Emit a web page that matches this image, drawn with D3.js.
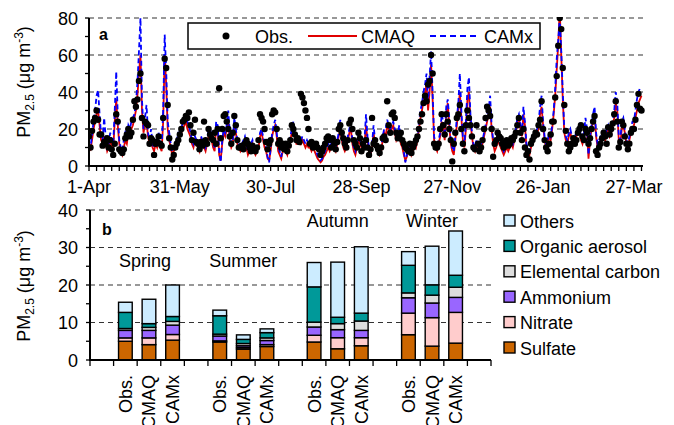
<!DOCTYPE html>
<html lang="en">
<head>
    <title>PM2.5 observed vs modelled</title>
    <meta charset="utf-8">
    <script src="https://cdn.jsdelivr.net/npm/d3@7"></script>
    <style>
      body { margin: 0; background: #fff; }
      text { font-family: "Liberation Sans", Arial, sans-serif; fill: #000; }
      .grid { stroke: #333; stroke-width: 1.2; stroke-dasharray: 5,4; }
    </style>
</head>
<body>
<svg id="chart"></svg>
<script>
    // ---- panel a: daily PM2.5, day 0 = 1-Apr ----
    const dateLabels = ["1-Apr", "31-May", "30-Jul", "28-Sep", "27-Nov", "26-Jan", "27-Mar"];
    const dateTicks = [0, 60, 120, 180, 240, 300, 360];

    const obs = [
        16, 10, 19, 24, 26, 30, 25, 17, 17, 11,
        13, 12, 15, 10, 14, 9, 6, 12, 28, 24,
        9, 8, 7, 9, 15, 17, 20, 16, 18, 25,
        35, 32, 36, 46, 50, 26, 16, 24, 23, 22,
        12, 15, 14, 6, 12, 13, 16, 12, 11, 26,
        58, 53, 33, 15, 10, 3.5, 6, 10, 12, 14,
        17, 20, 24, 25, 27, 26, 29, 22, 14, 18,
        25, 13, 12, 9, 13, 11, 24, 14, 12, 20,
        17, 15, 14, 18, 12, 20, 42, 15, 20, 27,
        28, 24, 20, 16, 12, 18, 27, 22, 14, 10,
        10, 11, 9, 12, 14, 12, 10, 8, 11, 9,
        8, 10, 14, 28, 26, 24, 20, 13, 9, 12,
        14, 28, 30, 29, 20, 12, 14, 10, 12, 9,
        12, 8, 11, 14, 22, 20, 17, 14, 15, 13,
        39, 37, 34, 30, 26, 20, 12, 13, 10, 11,
        12, 10, 9, 6, 8, 10, 12, 15, 16, 14,
        10, 15, 12, 9, 13, 20, 22, 18, 15, 12,
        10, 14, 23, 25, 20, 14, 12, 10, 18, 15,
        8, 12, 10, 14, 10, 6, 9, 26, 12, 14,
        11, 9, 7, 10, 15, 16, 14, 35, 22, 18,
        28, 29, 26, 18, 15, 16, 18, 14, 12, 10,
        9, 8, 12, 7, 10, 12, 14, 16, 20, 24,
        28, 34, 38, 35, 44, 46, 60, 50, 12, 10,
        10, 12, 20, 28, 22, 17, 28, 24, 20, 14,
        2.5, 12, 18, 26, 28, 33, 20, 12, 8, 22,
        30, 26, 22, 16, 10, 9, 22, 12, 8, 10,
        14, 20, 26, 32, 30, 27, 20, 5, 12, 14,
        18, 16, 15, 12, 10, 13, 14, 11, 12, 15,
        14, 16, 18, 22, 26, 18, 14, 20, 10, 6,
        8, 3.5, 12, 14, 16, 18, 17, 22, 25, 35,
        20, 14, 10, 8, 12, 17, 24, 24, 37, 48.6,
        65, 80, 74, 53, 33, 19, 12, 8, 10, 12,
        15, 12, 14, 18, 20, 22, 16, 14, 20, 18,
        12, 15, 20, 24, 27, 8, 6, 10, 12, 15,
        18, 16, 12, 21, 17, 20, 23, 28, 35, 24,
        10, 13, 24, 22, 16, 12, 9, 12, 18, 20,
        20, 25, 33, 39, 31, 30
    ];

    const cmaq = [
        10, 9, 14, 20, 24, 28, 30, 22, 14, 12,
        16, 12, 8, 10, 14, 11, 9, 24, 36, 22,
        12, 8, 6, 10, 14, 12, 18, 16, 20, 22,
        26, 30, 38, 50, 60, 30, 18, 22, 24, 16,
        12, 16, 10, 8, 12, 10, 14, 10, 8, 24,
        60, 44, 20, 14, 10, 6, 8, 10, 12, 14,
        16, 18, 20, 22, 24, 20, 18, 16, 12, 10,
        14, 12, 10, 8, 14, 12, 10, 8, 12, 16,
        18, 14, 10, 8, 22, 20, 6, 3, 12, 18,
        16, 20, 24, 14, 10, 12, 22, 18, 12, 10,
        8, 10, 12, 14, 10, 6, 8, 10, 12, 8,
        6, 8, 10, 16, 18, 14, 10, 8, 4, 3,
        8, 16, 20, 22, 16, 8, 6, 4, 8, 10,
        8, 6, 10, 14, 18, 20, 16, 12, 12, 14,
        12, 14, 12, 10, 12, 10, 10, 8, 10, 8,
        6, 4, 3, 2, 3, 5, 6, 8, 10, 8,
        10, 12, 10, 8, 12, 16, 20, 14, 10, 8,
        10, 14, 18, 20, 12, 8, 6, 10, 14, 12,
        10, 8, 12, 22, 14, 8, 6, 10, 18, 12,
        10, 8, 6, 8, 14, 18, 16, 22, 20, 18,
        20, 22, 18, 14, 16, 18, 12, 10, 6, 3,
        5, 8, 10, 6, 8, 12, 10, 14, 20, 26,
        30, 36, 40, 44, 30, 40, 55, 36, 14, 10,
        8, 12, 16, 24, 20, 14, 28, 34, 22, 12,
        8, 6, 14, 22, 30, 40, 26, 14, 10, 20,
        36, 40, 24, 16, 10, 8, 12, 10, 8, 10,
        12, 16, 20, 24, 28, 32, 20, 12, 8, 10,
        14, 12, 10, 8, 6, 8, 10, 8, 10, 12,
        10, 14, 18, 24, 26, 20, 16, 28, 22, 10,
        8, 6, 10, 12, 14, 16, 18, 20, 28, 32,
        22, 14, 10, 12, 16, 14, 20, 28, 38, 52,
        66, 85, 60, 36, 18, 14, 12, 16, 18, 14,
        12, 14, 16, 18, 20, 14, 12, 16, 22, 18,
        4, 14, 20, 24, 28, 16, 10, 12, 14, 16,
        16, 14, 18, 20, 16, 18, 22, 26, 34, 30,
        14, 12, 20, 22, 18, 12, 10, 14, 18, 20,
        22, 26, 30, 34, 36, 38
    ];

    const camx = [
        12, 10, 17, 24, 30, 38, 41, 28, 16, 14,
        26, 16, 10, 12, 18, 14, 12, 30, 51, 28,
        14, 10, 8, 14, 18, 16, 22, 20, 24, 26,
        28, 34, 45, 62, 80, 36, 20, 26, 33, 18,
        14, 20, 12, 10, 15, 12, 18, 12, 10, 30,
        71, 52, 24, 18, 12, 8, 10, 12, 14, 18,
        18, 20, 24, 26, 27, 24, 22, 18, 14, 12,
        16, 14, 12, 10, 16, 14, 12, 10, 14, 20,
        20, 16, 12, 10, 24, 22, 8, 2, 14, 20,
        18, 22, 30, 18, 12, 14, 26, 20, 14, 12,
        10, 12, 14, 16, 12, 8, 10, 12, 14, 10,
        8, 10, 12, 18, 20, 16, 12, 10, 5, 2,
        10, 18, 22, 25, 18, 10, 8, 5, 10, 12,
        10, 8, 12, 16, 20, 24, 18, 14, 14, 16,
        14, 16, 14, 12, 14, 12, 12, 10, 12, 10,
        8, 6, 4, 3, 4, 6, 8, 10, 12, 10,
        12, 14, 12, 10, 14, 18, 25, 16, 12, 10,
        12, 16, 20, 24, 14, 10, 8, 12, 18, 14,
        12, 10, 14, 28, 16, 10, 8, 12, 22, 14,
        12, 10, 8, 10, 16, 20, 20, 25, 22, 20,
        22, 24, 20, 16, 18, 22, 14, 12, 8, 2,
        6, 10, 12, 8, 10, 14, 12, 16, 24, 30,
        34, 40, 44, 50, 34, 48, 62, 40, 16, 12,
        10, 14, 18, 28, 24, 16, 32, 36, 26, 14,
        10, 8, 16, 26, 34, 50, 30, 16, 12, 24,
        42, 48, 28, 18, 12, 10, 14, 12, 10, 12,
        14, 18, 22, 28, 30, 38, 22, 14, 10, 12,
        16, 14, 12, 10, 8, 10, 12, 10, 12, 14,
        12, 16, 20, 26, 28, 22, 18, 32, 24, 12,
        10, 8, 12, 14, 16, 18, 20, 24, 32, 38,
        24, 16, 12, 14, 18, 16, 22, 30, 42, 58,
        68, 80, 62, 40, 20, 16, 14, 18, 20, 16,
        14, 16, 18, 20, 22, 16, 14, 18, 26, 20,
        6, 16, 22, 28, 32, 18, 12, 14, 16, 18,
        18, 16, 20, 22, 18, 20, 24, 30, 40, 34,
        16, 14, 24, 26, 20, 14, 12, 16, 20, 24,
        24, 30, 36, 40, 42, 42
    ];

    // ---- panel b: seasonal composition (µg m-3), bars in order season x source ----
    const seasons = ["Spring", "Summer", "Autumn", "Winter"];
    const sources = ["Obs.", "CMAQ", "CAMx"];
    const components = ["Sulfate", "Nitrate", "Ammonium", "Elemental carbon", "Organic aerosol", "Others"];
    const sulfate  = [5.0, 4.1, 5.3,  4.8, 2.9, 3.6,  4.8, 3.0, 3.8,  6.75, 3.7, 4.5];
    const nitrate  = [0.9, 1.8, 1.5,  0.3, 0.4, 0.5,  1.8, 2.95, 2.15, 5.75, 7.6, 8.2];
    const ammonium = [2.0, 2.0, 2.5,  1.3, 0.5, 1.1,  2.2, 2.15, 1.95, 4.1, 3.9, 4.0];
    const ec       = [0.5, 0.8, 1.0,  0.5, 0.6, 0.7,  1.3, 1.6, 2.5,  1.3, 2.1, 2.7];
    const oa       = [4.3, 1.0, 1.3,  4.9, 1.1, 1.4,  9.4, 1.7, 2.1,  7.35, 2.75, 3.2];
    const others   = [2.7, 6.5, 8.4,  1.5, 1.2, 1.0,  6.5, 14.7, 17.7, 3.65, 10.3, 11.8];
    const colors = ["#CC6600", "#FFCCCC", "#9966FF", "#DDDDDD", "#009999", "#CCECFF"];

    const width = 674, height = 425;
    const svg = d3.select("#chart")
        .attr("width", width)
        .attr("height", height);

    // ================= panel a =================
    const x = d3.scaleLinear().domain([0, 366]).range([89, 643]);
    const y = d3.scaleLinear().domain([0, 80]).range([166, 18]);

    // dashed grid
    svg.selectAll("line.gridA")
        .data([20, 40, 60, 80])
        .join("line")
        .attr("class", "grid")
        .attr("x1", x(0)).attr("x2", x(366))
        .attr("y1", d => y(d)).attr("y2", d => y(d));

    svg.append("clipPath").attr("id", "clipA")
        .append("rect").attr("x", 89).attr("y", 17).attr("width", 556).attr("height", 152);

    const line = d3.line()
        .defined(d => d != null)
        .x((d, i) => x(i))
        .y(d => y(d));

    const plotA = svg.append("g").attr("clip-path", "url(#clipA)");
    plotA.append("path")
        .datum(cmaq)
        .attr("d", line)
        .attr("fill", "none")
        .attr("stroke", "#E00000")
        .attr("stroke-width", 1.8);
    plotA.append("path")
        .datum(camx)
        .attr("d", line)
        .attr("fill", "none")
        .attr("stroke", "#0000FF")
        .attr("stroke-width", 1.8)
        .attr("stroke-dasharray", "5,3");
    plotA.selectAll("circle")
        .data(obs.map((v, i) => [i, v]).filter(d => d[1] != null))
        .join("circle")
        .attr("cx", d => x(d[0]))
        .attr("cy", d => y(d[1]))
        .attr("r", 3.2)
        .attr("fill", "#000");

    // axes of panel a
    const axA = svg.append("g").attr("stroke", "#000");
    axA.selectAll("line.minorX")
        .data(d3.range(0, 366, 5))
        .join("line")
        .attr("x1", d => x(d)).attr("x2", d => x(d))
        .attr("y1", y(0)).attr("y2", y(0) + 5)
        .attr("stroke-width", 1.3);
    axA.selectAll("line.tickY")
        .data(d3.range(0, 81, 10))
        .join("line")
        .attr("x1", x(0) - 4).attr("x2", x(0))
        .attr("y1", d => y(d)).attr("y2", d => y(d))
        .attr("stroke-width", 1.3);
    axA.append("line")
        .attr("x1", x(0)).attr("x2", x(366))
        .attr("y1", y(0)).attr("y2", y(0))
        .attr("stroke-width", 2);
    axA.append("line")
        .attr("x1", x(0)).attr("x2", x(0))
        .attr("y1", y(0) + 1).attr("y2", y(80))
        .attr("stroke-width", 2);

    svg.selectAll("text.dateLbl")
        .data(dateTicks)
        .join("text")
        .attr("x", d => x(d))
        .attr("y", 193)
        .attr("text-anchor", "middle")
        .style("font-size", "18px")
        .text((d, i) => dateLabels[i]);

    svg.selectAll("text.yLblA")
        .data([0, 20, 40, 60, 80])
        .join("text")
        .attr("x", 78)
        .attr("y", d => y(d) + 6.5)
        .attr("text-anchor", "end")
        .style("font-size", "18px")
        .text(d => d);

    // legend of panel a
    const legA = svg.append("g");
    legA.append("rect")
        .attr("x", 188).attr("y", 23).attr("width", 352).attr("height", 26)
        .attr("fill", "#fff").attr("stroke", "#000").attr("stroke-width", 1.5);
    legA.append("circle").attr("cx", 226).attr("cy", 36).attr("r", 3.5).attr("fill", "#000");
    legA.append("text").attr("x", 255).attr("y", 42.5).style("font-size", "18px").text("Obs.");
    legA.append("line").attr("x1", 308).attr("x2", 357).attr("y1", 36).attr("y2", 36)
        .attr("stroke", "#E00000").attr("stroke-width", 1.8);
    legA.append("text").attr("x", 361).attr("y", 42.5).style("font-size", "18px").text("CMAQ");
    legA.append("line").attr("x1", 430).attr("x2", 478).attr("y1", 36).attr("y2", 36)
        .attr("stroke", "#0000FF").attr("stroke-width", 1.8).attr("stroke-dasharray", "6,4");
    legA.append("text").attr("x", 484).attr("y", 42.5).style("font-size", "18px").text("CAMx");

    svg.append("text").attr("x", 99).attr("y", 40)
        .style("font-size", "16px").style("font-weight", "bold").text("a");

    // y-axis title, used by both panels
    function yTitle(cx, cy) {
        const t = svg.append("text")
            .attr("transform", `translate(${cx},${cy}) rotate(-90)`)
            .attr("text-anchor", "middle")
            .style("font-size", "18px");
        t.append("tspan").text("PM");
        t.append("tspan").attr("dy", 4).style("font-size", "12px").text("2.5");
        t.append("tspan").attr("dy", -4).text(" (μg m");
        t.append("tspan").attr("dy", -7).style("font-size", "12px").text("-3");
        t.append("tspan").attr("dy", 7).text(")");
    }
    yTitle(30, 82);

    // ================= panel b =================
    const slots = d3.range(17);
    const xb = d3.scaleBand().domain(slots).range([90, 491])
        .paddingInner(0.42).paddingOuter(0.21);
    const yb = d3.scaleLinear().domain([0, 40]).range([360, 210]);

    svg.selectAll("line.gridB")
        .data([10, 20, 30, 40])
        .join("line")
        .attr("class", "grid")
        .attr("x1", 90).attr("x2", 491)
        .attr("y1", d => yb(d)).attr("y2", d => yb(d));

    const series = [sulfate, nitrate, ammonium, ec, oa, others];
    const bars = [];
    seasons.forEach((s, si) => {
        sources.forEach((src, ji) => {
            const k = si * 3 + ji;
            let base = 0;
            series.forEach((arr, ci) => {
                bars.push({slot: 1 + si * 4 + ji, y0: base, y1: base + arr[k], c: colors[ci]});
                base += arr[k];
            });
        });
    });

    svg.selectAll("rect.seg")
        .data(bars)
        .join("rect")
        .attr("x", d => xb(d.slot))
        .attr("width", xb.bandwidth())
        .attr("y", d => yb(d.y1))
        .attr("height", d => yb(d.y0) - yb(d.y1))
        .attr("fill", d => d.c)
        .attr("stroke", "#000")
        .attr("stroke-width", 1.4);

    // axes of panel b
    const axB = svg.append("g").attr("stroke", "#000");
    axB.selectAll("line.tickXb")
        .data(d3.range(18))
        .join("line")
        .attr("x1", d => 90 + d * xb.step()).attr("x2", d => 90 + d * xb.step())
        .attr("y1", yb(0)).attr("y2", yb(0) + 6)
        .attr("stroke-width", 1.3);
    axB.selectAll("line.tickYb")
        .data(d3.range(0, 41, 5))
        .join("line")
        .attr("x1", 86).attr("x2", 90)
        .attr("y1", d => yb(d)).attr("y2", d => yb(d))
        .attr("stroke-width", 1.3);
    axB.append("line")
        .attr("x1", 90).attr("x2", 491)
        .attr("y1", yb(0)).attr("y2", yb(0))
        .attr("stroke-width", 2);
    axB.append("line")
        .attr("x1", 90).attr("x2", 90)
        .attr("y1", yb(0) + 1).attr("y2", yb(40))
        .attr("stroke-width", 2);

    svg.selectAll("text.yLblB")
        .data([0, 10, 20, 30, 40])
        .join("text")
        .attr("x", 78)
        .attr("y", d => yb(d) + 6.5)
        .attr("text-anchor", "end")
        .style("font-size", "18px")
        .text(d => d);

    // rotated source labels
    const srcLbls = [];
    seasons.forEach((s, si) => sources.forEach((src, ji) => srcLbls.push({slot: 1 + si * 4 + ji, t: src})));
    svg.selectAll("text.srcLbl")
        .data(srcLbls)
        .join("text")
        .attr("transform", d => `translate(${xb(d.slot) + xb.bandwidth() / 2 + 6.5},375) rotate(-90)`)
        .attr("text-anchor", "end")
        .style("font-size", "18px")
        .text(d => d.t);

    // season labels
    const seasonLblY = [24.7, 24.7, 35.4, 35.4];
    svg.selectAll("text.season")
        .data(seasons)
        .join("text")
        .attr("x", (d, i) => xb(2 + i * 4) + xb.bandwidth() / 2 - (i === 0 ? 4 : 0))
        .attr("y", (d, i) => yb(seasonLblY[i]))
        .attr("text-anchor", "middle")
        .style("font-size", "18px")
        .text(d => d);

    svg.append("text").attr("x", 102).attr("y", 235)
        .style("font-size", "16px").style("font-weight", "bold").text("b");

    yTitle(30, 286);

    // legend of panel b (top to bottom: Others ... Sulfate)
    const legB = svg.append("g");
    const legOrder = d3.range(components.length).reverse();
    legOrder.forEach((ci, r) => {
        const cy = 221 + r * 25.4;
        legB.append("rect")
            .attr("x", 504).attr("y", cy - 6).attr("width", 11).attr("height", 11)
            .attr("fill", colors[ci]).attr("stroke", "#000").attr("stroke-width", 1.4);
        legB.append("text")
            .attr("x", 520).attr("y", cy + 6.5)
            .style("font-size", "18px")
            .text(components[ci]);
    });
</script>
</body>
</html>
